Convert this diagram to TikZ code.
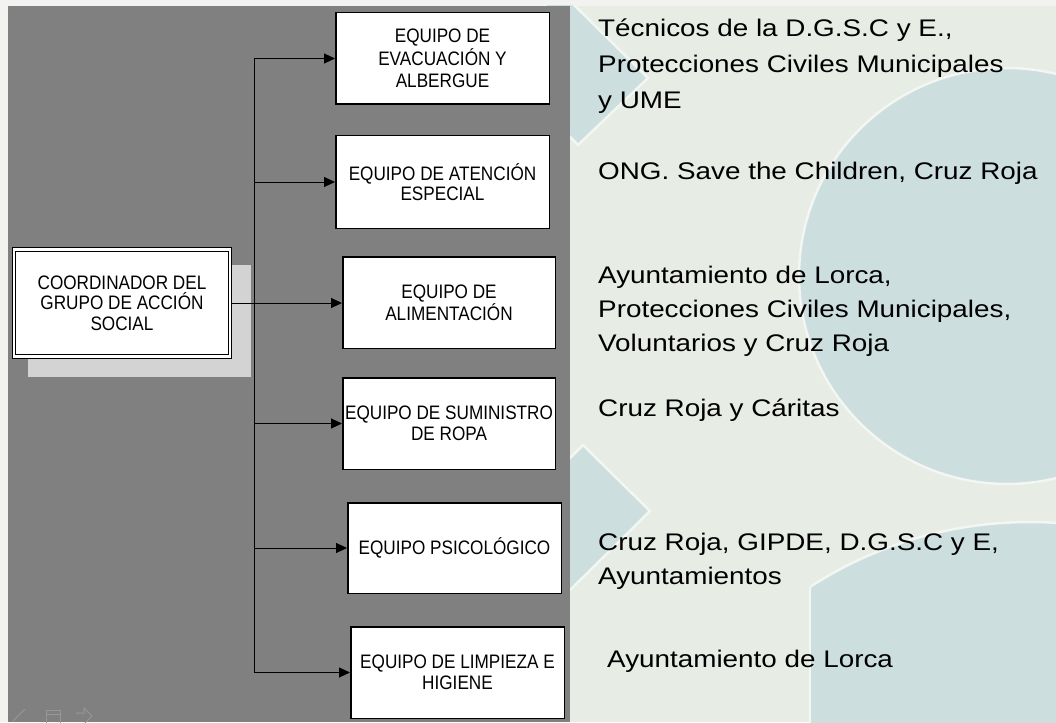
\documentclass[tikz,border=0pt]{standalone}
\usepackage{fontspec}
\setmainfont{Liberation Sans}
\newfontfamily\boxfont[FakeStretch=0.88]{Liberation Sans}
\newfontfamily\sidefont[FakeStretch=1.16]{Liberation Sans}
\usetikzlibrary{arrows.meta}
\definecolor{panel}{HTML}{808080}
\definecolor{pale}{HTML}{E7ECE4}
\definecolor{shapecol}{HTML}{CDDEDF}
\definecolor{rim}{HTML}{F3F6F2}
\definecolor{shadowcol}{HTML}{D3D3D3}
\definecolor{strip}{HTML}{F2F3F1}
\definecolor{iconcol}{HTML}{979797}
\begin{document}
\begin{tikzpicture}[x=1pt,y=-1pt,
  box/.style={draw=black, line width=1.5pt, fill=white, inner sep=0pt, align=center,
    font=\boxfont\fontsize{19.5}{20.5}\selectfont},
  side/.style={anchor=base west, inner sep=0pt, font=\sidefont\fontsize{24}{35}\selectfont},
  link/.style={line width=0.9pt, draw=black},
  arr/.style={link, -{Triangle[length=11pt,width=10pt]}},
  bgshape/.style={fill=shapecol, draw=rim, line width=2.5pt},
  icon/.style={draw=iconcol, line width=1pt}]

\useasboundingbox (0,0) rectangle (1056,722);
\fill[strip] (0,0) rectangle (1056,722);
\fill[pale] (8,6) rectangle (1056,722);

% background shapes
\begin{scope}
  \clip (8,6) rectangle (1056,722);
  \draw[bgshape] (578,145) -- (648,78) -- (560,-9) -- (491,58) -- cycle;
  \draw[bgshape] (583,445) -- (650,511) -- (560,600) -- (495,533) -- cycle;
  \draw[bgshape] (1007,276) circle[radius=208];
  \begin{scope}
    \clip (810,0) rectangle (1100,800);
    \draw[bgshape] (1030,927) circle[radius=405];
  \end{scope}
  \draw[rim, line width=2.5pt] (810,587) -- (810,730);
\end{scope}

% left panel
\fill[panel] (8,6) rectangle (570,722);

% bottom-left slide controls
\draw[icon] (13,721) -- (25,709);
\draw[icon] (46,710) rectangle (60,724);
\draw[icon] (46,714) -- (60,714);
\draw[icon] (76,713) -- (84,713) -- (84,708) -- (92,716) -- (84,724);

% shadow of coordinator
\fill[shadowcol] (28,265) rectangle (251,377);

% nodes
\node[box, double, double distance=2.2pt, line width=1.1pt,
      minimum width=216pt, minimum height=107pt] (coord) at (122,303)
      {COORDINADOR DEL\\GRUPO DE ACCIÓN\\SOCIAL};

\node[box, minimum width=213.5pt, minimum height=91.5pt,
      font=\boxfont\fontsize{19.5}{22.5}\selectfont] (b1) at (442.5,58.5)
      {EQUIPO DE\\EVACUACIÓN Y\\ALBERGUE};
\node[box, minimum width=213.5pt, minimum height=92.5pt] (b2) at (442.5,182)
      {EQUIPO DE ATENCIÓN\\ESPECIAL};
\node[box, minimum width=212.5pt, minimum height=91.5pt] (b3) at (449,302.5)
      {EQUIPO DE\\ALIMENTACIÓN};
\node[box, minimum width=212.5pt, minimum height=91.5pt] (b4) at (449,423.5)
      {EQUIPO DE SUMINISTRO\\DE ROPA};
\node[box, minimum width=213.5pt, minimum height=90.5pt] (b5) at (454.5,548)
      {EQUIPO PSICOLÓGICO};
\node[box, minimum width=213.5pt, minimum height=91.5pt] (b6) at (457.5,672.5)
      {EQUIPO DE LIMPIEZA E\\HIGIENE};

% connectors
\coordinate (trunk) at (254,0);
\draw[link] (b1.west -| trunk) -- (b6.west -| trunk);
\foreach \b in {b1,b2,b4,b5,b6}{
  \draw[arr] (\b.west -| trunk) -- (\b.west);
}
\draw[arr] (coord.east) -- (coord.east -| b3.west);

% right-hand texts
\node[side] (t1a) at (598,37) {Técnicos de la D.G.S.C y E.,};
\node[side] (t1b) at (598,73) {Protecciones Civiles Municipales};
\node[side] (t1c) at (598,109) {y UME};
\node[side] (t2) at (598,179) {ONG. Save the Children, Cruz Roja};
\node[side] (t3a) at (598,283) {Ayuntamiento de Lorca,};
\node[side] (t3b) at (598,317) {Protecciones Civiles Municipales,};
\node[side] (t3c) at (598,351) {Voluntarios y Cruz Roja};
\node[side] (t4) at (598,416) {Cruz Roja y Cáritas};
\node[side] (t5a) at (598,550) {Cruz Roja, GIPDE, D.G.S.C y E,};
\node[side] (t5b) at (598,584) {Ayuntamientos};
\node[side] (t6) at (607,667) {Ayuntamiento de Lorca};
\end{tikzpicture}
\end{document}
